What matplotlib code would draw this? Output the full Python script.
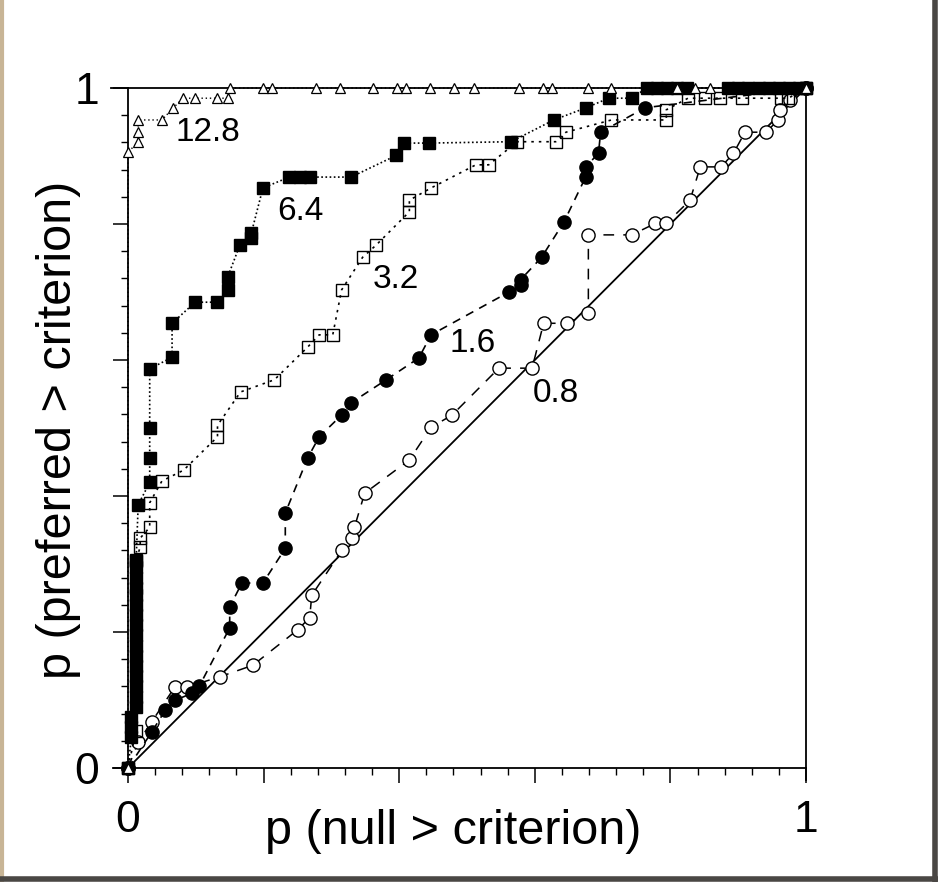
import matplotlib
matplotlib.use('Agg')
import matplotlib.pyplot as plt
from matplotlib.ticker import MultipleLocator, FuncFormatter
from matplotlib.lines import Line2D

plt.rcParams['font.family'] = ['Liberation Sans', 'DejaVu Sans']

# ---------------- data ----------------
series_names = ['12.8', '6.4', '3.2', '1.6', '0.8']

x_128 = [0.0, 0.0, 0.015, 0.015, 0.015, 0.05, 0.066, 0.081, 0.099, 0.132, 0.147, 0.15,
         0.199, 0.212, 0.278, 0.313, 0.362, 0.397, 0.41, 0.446, 0.481, 0.51, 0.576,
         0.612, 0.625, 0.678, 0.713, 0.81, 0.837, 0.859, 1.0]
y_128 = [0.0, 0.906, 0.92, 0.935, 0.953, 0.953, 0.97, 0.985, 0.985, 0.985, 0.985, 1.0,
         1.0, 1.0, 1.0, 1.0, 1.0, 1.0, 1.0, 1.0, 1.0, 1.0, 1.0,
         1.0, 1.0, 1.0, 1.0, 1.0, 1.0, 1.0, 1.0]

x_64 = [0.0, 0.005, 0.005, 0.005,
        0.012, 0.012, 0.012, 0.012, 0.012,
        0.012, 0.012, 0.012, 0.012, 0.012, 0.012, 0.012, 0.012,
        0.012, 0.012, 0.012,
        0.015, 0.032, 0.032, 0.032, 0.032, 0.065, 0.065, 0.099, 0.131, 0.147, 0.147,
        0.165, 0.182, 0.182, 0.199, 0.238, 0.253, 0.268, 0.329, 0.396, 0.407, 0.444,
        0.565, 0.628, 0.676, 0.709, 0.743, 0.765, 0.78, 0.795, 0.81, 0.825,
        0.885, 0.9, 0.915, 0.93, 0.945, 0.96, 0.975, 0.99, 1.0]
y_64 = [0.0, 0.045, 0.06, 0.075,
        0.09, 0.105, 0.12, 0.135, 0.15,
        0.165, 0.18, 0.195, 0.21, 0.225, 0.24, 0.255, 0.265,
        0.28, 0.295, 0.305,
        0.387, 0.42, 0.456, 0.50, 0.587, 0.604, 0.654, 0.685, 0.685, 0.703, 0.722,
        0.769, 0.78, 0.787, 0.853, 0.869, 0.869, 0.869, 0.869, 0.901, 0.919, 0.919,
        0.921, 0.953, 0.971, 0.985, 0.985, 1.0, 1.0, 1.0, 1.0, 1.0,
        1.0, 1.0, 1.0, 1.0, 1.0, 1.0, 1.0, 1.0, 1.0]

x_32 = [0.0, 0.012, 0.012, 0.018, 0.018, 0.032, 0.032, 0.05, 0.082, 0.132, 0.132,
        0.166, 0.216, 0.265, 0.282, 0.302, 0.315, 0.346, 0.366, 0.415, 0.415, 0.447,
        0.513, 0.532, 0.574, 0.631, 0.646, 0.713, 0.794, 0.794, 0.826, 0.851, 0.873,
        0.905, 0.963, 0.974, 1.0]
y_32 = [0.0, 0.055, 0.306, 0.325, 0.338, 0.354, 0.39, 0.422, 0.438, 0.487, 0.504,
        0.553, 0.571, 0.619, 0.637, 0.637, 0.703, 0.751, 0.769, 0.818, 0.835, 0.853,
        0.887, 0.887, 0.921, 0.921, 0.935, 0.953, 0.953, 0.968, 0.985, 0.985, 0.985,
        0.985, 0.985, 0.985, 1.0]

x_16 = [0.0, 0.035, 0.055, 0.07, 0.095, 0.105, 0.15, 0.15, 0.168, 0.199, 0.232, 0.232,
        0.265, 0.282, 0.315, 0.329, 0.381, 0.429, 0.447, 0.562, 0.579, 0.579, 0.61,
        0.643, 0.675, 0.675, 0.694, 0.697, 0.763, 1.0]
y_16 = [0.0, 0.053, 0.085, 0.1, 0.11, 0.12, 0.206, 0.237, 0.272, 0.272, 0.323, 0.375,
        0.456, 0.487, 0.519, 0.537, 0.571, 0.603, 0.637, 0.7, 0.71, 0.718, 0.751,
        0.803, 0.869, 0.884, 0.904, 0.935, 0.971, 1.0]

x_08 = [0.0, 0.015, 0.035, 0.069, 0.087, 0.135, 0.184, 0.25, 0.268, 0.271, 0.316,
        0.331, 0.334, 0.349, 0.415, 0.447, 0.478, 0.547, 0.596, 0.613, 0.647, 0.679,
        0.679, 0.743, 0.778, 0.794, 0.829, 0.844, 0.875, 0.893, 0.91, 0.941, 0.959,
        0.962, 0.976, 1.0]
y_08 = [0.0, 0.038, 0.068, 0.119, 0.119, 0.134, 0.151, 0.203, 0.221, 0.254, 0.321,
        0.338, 0.354, 0.404, 0.453, 0.501, 0.519, 0.588, 0.588, 0.654, 0.654, 0.669,
        0.784, 0.784, 0.801, 0.801, 0.835, 0.884, 0.884, 0.904, 0.935, 0.935, 0.953,
        0.968, 0.982, 1.0]

diag_x = [0.0, 1.0]
diag_y = [0.0, 1.0]

# ---------------- figure ----------------
fig = plt.figure(figsize=(9.38, 8.82), dpi=100)
ax = fig.add_axes([128/938, 114/882, 678/938, 680/882])
ax.set_xlim(0, 1)
ax.set_ylim(0, 1)

ax.plot(diag_x, diag_y, color='black', lw=1.3, zorder=2)

ax.plot(x_08, y_08, color='black', lw=1.1, linestyle=(0, (7, 6)),
        marker='o', ms=9.5, mfc='white', mec='black', mew=1.0, clip_on=False, zorder=3)
ax.plot(x_16, y_16, color='black', lw=1.2, linestyle=(0, (5, 4)),
        marker='o', ms=9.5, mfc='black', mec='black', clip_on=False, zorder=4)
ax.plot(x_32, y_32, color='black', lw=1.2, linestyle=(0, (1.5, 3)),
        marker='s', ms=9, mfc='none', mec='black', mew=1.0, clip_on=False, zorder=4)
ax.plot(x_64, y_64, color='black', lw=1.2, linestyle=(0, (1, 1.5)),
        marker='s', ms=9, mfc='black', mec='black', clip_on=False, zorder=5)
ax.plot(x_128, y_128, color='black', lw=1.0, linestyle=(0, (1, 2)),
        marker='^', ms=6.5, mfc='white', mec='black', mew=0.9, clip_on=False, zorder=6)

# curve labels
label_pos = {'12.8': (0.118, 0.935), '6.4': (0.254, 0.818), '3.2': (0.395, 0.719),
             '1.6': (0.509, 0.624), '0.8': (0.631, 0.55)}
for name in series_names:
    lx, ly = label_pos[name]
    ax.text(lx, ly, name, ha='center', va='center', fontsize=24, zorder=7)

# spines and ticks
for s in ax.spines.values():
    s.set_linewidth(1.3)
ax.xaxis.set_major_locator(MultipleLocator(0.2))
ax.xaxis.set_minor_locator(MultipleLocator(0.04))
ax.yaxis.set_major_locator(MultipleLocator(0.2))
ax.yaxis.set_minor_locator(MultipleLocator(0.04))
fmt = FuncFormatter(lambda v, p: '0' if abs(v) < 1e-9 else ('1' if abs(v - 1) < 1e-9 else ''))
ax.xaxis.set_major_formatter(fmt)
ax.yaxis.set_major_formatter(fmt)
ax.tick_params(which='major', direction='out', length=11, width=1.1, labelsize=32)
ax.tick_params(which='minor', direction='out', length=5, width=1.0)
ax.tick_params(axis='x', which='major', pad=12)
ax.tick_params(axis='y', which='major', pad=10)
ax.tick_params(top=False, right=False)

# extended frame lines
ax.plot([-0.025, 0.0], [1, 1], color='black', lw=1.3, transform=ax.transAxes, clip_on=False)
ax.plot([-0.022, 0.0], [0, 0], color='black', lw=1.3, transform=ax.transAxes, clip_on=False)
ax.plot([1, 1], [0, -0.018], color='black', lw=1.3, transform=ax.transAxes, clip_on=False)

ax.set_xlabel('p (null > criterion)', fontsize=35)
ax.xaxis.set_label_coords(0.48, -0.06)
ax.set_ylabel('p (preferred > criterion)', fontsize=35)
ax.yaxis.set_label_coords(-0.07, 0.497)

# outer picture frame
fig.add_artist(Line2D([0.002, 0.002], [0, 1], transform=fig.transFigure, color='#c8b596', lw=3))
fig.add_artist(Line2D([0.997, 0.997], [0, 1], transform=fig.transFigure, color='#4a4744', lw=4))
fig.add_artist(Line2D([0, 1], [0.003, 0.003], transform=fig.transFigure, color='#4a4744', lw=4))

fig.savefig('out.png', dpi=100)
